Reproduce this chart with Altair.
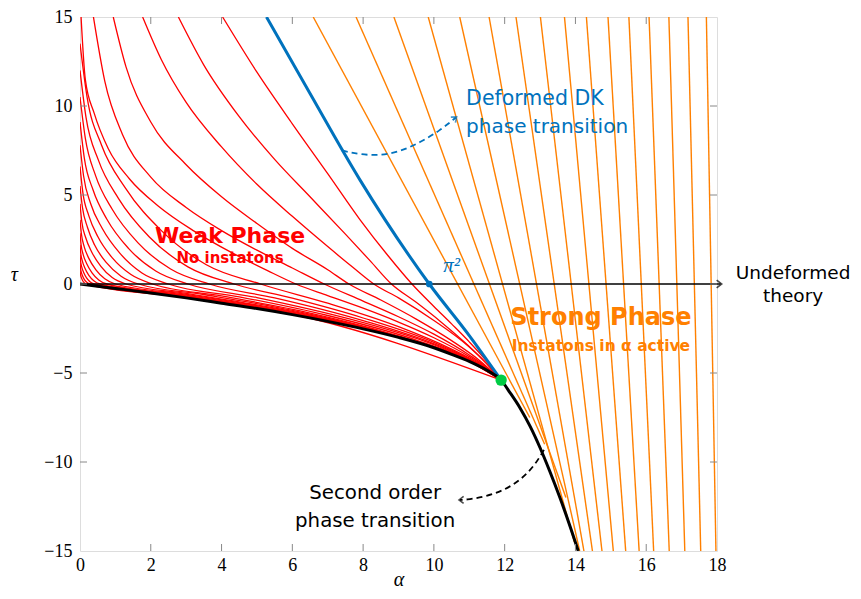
import altair as alt
import pandas as pd

# ---------------- data ----------------
X_TICKS = [0, 2, 4, 6, 8, 10, 12, 14, 16, 18]
Y_TICKS = [-15, -10, -5, 0, 5, 10, 15]

black_alpha = [0, 1, 2, 3, 4, 5, 6, 7, 8, 9, 10, 10.5, 11, 11.5, 11.9, 12.15, 12.43, 12.72, 13.0, 13.28, 13.56, 13.82, 14.08]
black_tau = [0, -0.25, -0.5, -0.78, -1.08, -1.38, -1.72, -2.1, -2.52, -3.0, -3.58, -3.95, -4.35, -4.85, -5.4, -6.1, -6.95, -8.0, -9.2, -10.55, -12.0, -13.45, -15]

blue_alpha = [5.27, 6.5, 7.91, 9.87, 11.0, 11.9]
blue_tau = [15, 10.7, 5.85, 0, -2.9, -5.4]

# red curves: one (alpha list, tau list) pair per curve
red_curves = [
    ([4.03, 5, 6, 7, 7.91, 8.7, 9.38, 10, 10.5, 11, 11.5, 11.9],
     [15, 11.9, 9.0, 6.2, 3.62, 1.6, 0, -1.26, -2.24, -3.25, -4.36, -5.4]),
    ([2.78, 3.5, 4.5, 5.5, 6.5, 7.5, 8.2, 8.8, 9.5, 10.2, 11, 11.5, 11.9],
     [15, 12.3, 9.4, 7.0, 4.9, 2.8, 1.3, 0, -1.03, -2.13, -3.51, -4.48, -5.4]),
    ([1.77, 2.3, 3, 4, 5, 6, 7, 7.7, 8.3, 9, 10, 11, 11.5, 11.9],
     [15, 12.6, 10.2, 7.7, 5.6, 3.8, 2.1, 0.95, 0, -0.78, -2.05, -3.54, -4.5, -5.4]),
    ([0.94, 1.3, 2, 3, 4, 5, 6, 7, 7.6, 8.5, 9.5, 10.5, 11.3, 11.9],
     [15, 12.2, 9.1, 6.7, 4.9, 3.4, 2.0, 0.8, 0, -0.9, -1.97, -3.18, -4.31, -5.4]),
    ([0.38, 0.7, 1.2, 2, 3, 4, 5, 6, 6.9, 8, 9, 10, 11, 11.5, 11.9],
     [15, 11.4, 8.4, 6.0, 4.3, 3.0, 1.9, 0.9, 0, -0.96, -1.84, -2.82, -3.99, -4.69, -5.4]),
    ([0.03, 0.15, 0.4, 0.8, 1.4, 2.2, 3.2, 4.3, 5.3, 6.1, 7, 8, 9, 10, 11, 11.5, 11.9],
     [15, 11.5, 9.6, 7.6, 5.9, 4.4, 3.0, 1.75, 0.75, 0, -0.65, -1.36, -2.14, -3.02, -4.08, -4.73, -5.4]),
    ([0, 0.2, 0.61, 1.28, 2.3, 3.57, 5.1, 7, 9, 10.5, 11, 11.5, 11.9],
     [13.5, 10.5, 7.8, 5.4, 3.0, 1.08, 0, -1.08, -2.40, -3.66, -4.16, -4.77, -5.4]),
    ([0, 0.17, 0.52, 1.09, 1.96, 3.05, 4.35, 6, 8, 10, 11, 11.5, 11.9],
     [12.0, 9.36, 6.96, 4.8, 2.64, 0.96, 0, -0.80, -1.91, -3.28, -4.21, -4.79, -5.4]),
    ([0, 0.15, 0.44, 0.91, 1.64, 2.56, 3.65, 5.5, 8, 10, 11, 11.5, 11.9],
     [10.5, 8.19, 6.09, 4.2, 2.31, 0.84, 0, -0.78, -2.06, -3.36, -4.24, -4.80, -5.4]),
    ([0, 0.12, 0.37, 0.76, 1.37, 2.14, 3.05, 5, 7.5, 10, 11, 11.5, 11.9],
     [9.1, 7.1, 5.28, 3.64, 2.0, 0.73, 0, -0.76, -1.9, -3.41, -4.27, -4.81, -5.4]),
    ([0, 0.1, 0.3, 0.63, 1.13, 1.75, 2.5, 4.5, 7, 9.5, 11, 11.5, 11.9],
     [7.8, 6.08, 4.52, 3.12, 1.72, 0.62, 0, -0.72, -1.77, -3.15, -4.29, -4.82, -5.4]),
    ([0, 0.08, 0.25, 0.51, 0.92, 1.44, 2.05, 4, 6.5, 9, 11, 11.5, 11.9],
     [6.6, 5.15, 3.83, 2.64, 1.45, 0.53, 0, -0.67, -1.63, -2.92, -4.30, -4.83, -5.4]),
    ([0, 0.07, 0.21, 0.41, 0.74, 1.16, 1.65, 3.5, 6, 9, 11, 11.5, 11.9],
     [5.5, 4.29, 3.19, 2.2, 1.21, 0.44, 0, -0.59, -1.48, -2.95, -4.31, -4.83, -5.4]),
    ([0, 0.05, 0.16, 0.33, 0.59, 0.91, 1.3, 3, 6, 9, 11, 11.5, 11.9],
     [4.5, 3.51, 2.61, 1.8, 0.99, 0.36, 0, -0.53, -1.54, -2.96, -4.32, -4.84, -5.4]),
    ([0, 0.04, 0.12, 0.25, 0.45, 0.7, 1.0, 3, 6, 9, 11, 11.5, 11.9],
     [3.6, 2.81, 2.09, 1.44, 0.79, 0.29, 0, -0.58, -1.58, -2.97, -4.33, -4.84, -5.4]),
    ([0, 0.03, 0.09, 0.19, 0.34, 0.53, 0.76, 3, 6, 9, 11, 11.5, 11.9],
     [2.85, 2.22, 1.65, 1.14, 0.63, 0.23, 0, -0.63, -1.62, -2.98, -4.33, -4.845, -5.4]),
    ([0, 0.022, 0.067, 0.14, 0.25, 0.39, 0.56, 3, 6, 9, 11, 11.9],
     [2.2, 1.72, 1.28, 0.88, 0.48, 0.18, 0, -0.67, -1.65, -2.985, -4.34, -5.4]),
    ([0, 0.016, 0.048, 0.1, 0.18, 0.28, 0.4, 3, 6, 9, 11, 11.9],
     [1.65, 1.29, 0.96, 0.66, 0.36, 0.13, 0, -0.71, -1.67, -2.99, -4.34, -5.4]),
    ([0, 0.011, 0.032, 0.068, 0.12, 0.19, 0.27, 3, 6, 9, 11, 11.9],
     [1.2, 0.94, 0.70, 0.48, 0.26, 0.1, 0, -0.735, -1.69, -2.995, -4.345, -5.4]),
    ([0, 0.007, 0.02, 0.043, 0.077, 0.12, 0.17, 3, 6, 11.9],
     [0.82, 0.64, 0.48, 0.33, 0.18, 0.066, 0, -0.755, -1.70, -5.4]),
]

# orange straight lines: top end at tau = 15, lower end on the bottom edge or on the black curve
orange_top_alpha = [6.59, 7.80, 8.87, 9.84, 10.73, 11.56, 12.32, 13.01, 13.69, 14.31, 14.92, 15.51, 16.08, 16.64, 17.18, 17.70]
orange_bot_alpha = [12.71, 13.13, 13.73, 13.97, 14.12, 14.24, 14.48, 14.75, 15.07, 15.42, 15.80, 16.21, 16.65, 17.09, 17.54, 17.97]
orange_bot_tau = [-7.5, -9.0, -12.0, -14.5, -15, -15, -15, -15, -15, -15, -15, -15, -15, -15, -15, -15]

green_pt = (11.9, -5.4)
blue_pt = (9.87, 0)

dk_arrow_alpha = [7.40, 7.91, 8.48, 9.04, 9.61, 10.17, 10.62]
dk_arrow_tau = [7.50, 7.27, 7.22, 7.44, 7.95, 8.62, 9.35]
so_arrow_alpha = [13.11, 12.86, 12.49, 12.01, 11.44, 10.88, 10.74]
so_arrow_tau = [-9.32, -10.16, -10.95, -11.57, -11.96, -12.13, -12.13]

# ---------------- build tables ----------------
W, H = 637, 534
RED = "#ff0000"
ORANGE = "#ff8000"
BLUE = "#0072bd"
GREEN = "#00cc44"

rows = []
for cid, (al, ta) in enumerate(red_curves):
    for i, (a, t) in enumerate(zip(al, ta)):
        rows.append({"c": cid, "o": i, "a": a, "t": t})
red_df = pd.DataFrame(rows)

orows = []
for k, (a0, a1, t1) in enumerate(zip(orange_top_alpha, orange_bot_alpha, orange_bot_tau)):
    orows.append({"c": k, "o": 0, "a": a0, "t": 15})
    orows.append({"c": k, "o": 1, "a": a1, "t": t1})
orange_df = pd.DataFrame(orows)

black_df = pd.DataFrame({"a": black_alpha, "t": black_tau, "o": range(len(black_alpha))})
blue_df = pd.DataFrame({"a": blue_alpha, "t": blue_tau, "o": range(len(blue_alpha))})

xs = alt.Scale(domain=[0, 18], nice=False, zero=False)
ys = alt.Scale(domain=[-15, 15], nice=False, zero=False)

X = lambda f="a": alt.X(f"{f}:Q", scale=xs)
Y = lambda f="t": alt.Y(f"{f}:Q", scale=ys)

base_axes = alt.Chart(pd.DataFrame({"a": [0], "t": [0]})).mark_point(opacity=0).encode(
    x=alt.X("a:Q", scale=xs, title="α",
            axis=alt.Axis(values=X_TICKS, ticks=False, domain=False, grid=False, labelFont="Liberation Serif",
                          labelFontSize=18, labelColor="black", labelPadding=5, labelFlush=False,
                          titleFont="Liberation Serif",
                          titleFontSize=20, titleFontStyle="italic", titleFontWeight="normal",
                          titleBaseline="alphabetic", titleY=34)),
    y=alt.Y("t:Q", scale=ys, title="τ",
            axis=alt.Axis(values=Y_TICKS, ticks=False, domain=False, grid=False, labelFont="Liberation Serif",
                          labelFontSize=18, labelColor="black", labelPadding=8, labelFlush=False,
                          titleFont="Liberation Serif",
                          titleFontSize=20, titleFontStyle="italic", titleFontWeight="normal", titleAngle=0,
                          titlePadding=30)),
)

red = alt.Chart(red_df).mark_line(color=RED, strokeWidth=1.3, clip=True, interpolate="monotone").encode(
    x=X(), y=Y(), detail="c:N", order="o:Q")
orange = alt.Chart(orange_df).mark_line(color=ORANGE, strokeWidth=1.4, clip=True).encode(
    x=X(), y=Y(), detail="c:N", order="o:Q")
black = alt.Chart(black_df).mark_line(color="black", strokeWidth=3, clip=True, interpolate="monotone").encode(
    x=X(), y=Y(), order="o:Q")
blue = alt.Chart(blue_df).mark_line(color=BLUE, strokeWidth=3, clip=True, interpolate="monotone").encode(
    x=X(), y=Y(), order="o:Q")

axis_line = alt.Chart(pd.DataFrame({"a": [0], "a2": [18.1], "t": [0]})).mark_rule(
    color="black", strokeWidth=1.6).encode(x=X(), x2="a2:Q", y=Y())
arrow_head = alt.Chart(pd.DataFrame({"a": [18.1], "t": [0]})).mark_point(
    shape="M-1,-1L0.3,0L-1,1", size=60, filled=False, stroke="black", strokeWidth=1.6).encode(x=X(), y=Y())

dots = alt.Chart(pd.DataFrame({"a": [green_pt[0], blue_pt[0]], "t": [green_pt[1], blue_pt[1]],
                               "col": [GREEN, BLUE], "s": [130, 45]})).mark_point(filled=True, opacity=1).encode(
    x=X(), y=Y(), color=alt.Color("col:N", scale=None), size=alt.Size("s:Q", scale=None))

dk_df = pd.DataFrame({"a": dk_arrow_alpha, "t": dk_arrow_tau, "o": range(len(dk_arrow_alpha))})
so_df = pd.DataFrame({"a": so_arrow_alpha, "t": so_arrow_tau, "o": range(len(so_arrow_alpha))})
dk_line = alt.Chart(dk_df).mark_line(color=BLUE, strokeWidth=1.8, strokeDash=[6, 4], interpolate="basis").encode(
    x=X(), y=Y(), order="o:Q")
so_line = alt.Chart(so_df).mark_line(color="black", strokeWidth=1.8, strokeDash=[6, 4], interpolate="basis").encode(
    x=X(), y=Y(), order="o:Q")
dk_head = alt.Chart(pd.DataFrame({"a": [dk_arrow_alpha[-1]], "t": [dk_arrow_tau[-1]]})).mark_point(
    shape="M-1,-1L0.3,0L-1,1", size=50, filled=False, stroke=BLUE, strokeWidth=1.6, angle=320).encode(x=X(), y=Y())
so_head = alt.Chart(pd.DataFrame({"a": [so_arrow_alpha[-1]], "t": [so_arrow_tau[-1]]})).mark_point(
    shape="M-1,-1L0.3,0L-1,1", size=50, filled=False, stroke="black", strokeWidth=1.6, angle=180).encode(x=X(), y=Y())

# inside ticks
xt = pd.DataFrame({"a": X_TICKS[1:-1]})
yt = pd.DataFrame({"t": Y_TICKS[1:-1]})
TC = "#888888"
tb = alt.Chart(xt).mark_rule(color=TC, strokeWidth=1).encode(x=X(), y=alt.value(H), y2=alt.value(H - 7))
tt = alt.Chart(xt).mark_rule(color=TC, strokeWidth=1).encode(x=X(), y=alt.value(0), y2=alt.value(7))
tl = alt.Chart(yt).mark_rule(color=TC, strokeWidth=1).encode(y=Y(), x=alt.value(0), x2=alt.value(7))
tr = alt.Chart(yt).mark_rule(color=TC, strokeWidth=1).encode(y=Y(), x=alt.value(W), x2=alt.value(W - 7))


def label(a, t, text, color, size, weight="normal", align="center", font="DejaVu Sans", style="normal"):
    return alt.Chart(pd.DataFrame({"a": [a], "t": [t], "s": [text]})).mark_text(
        color=color, fontSize=size, fontWeight=weight, align=align, baseline="middle", font=font,
        fontStyle=style).encode(x=X(), y=Y(), text="s:N")


texts = [
    label(4.24, 2.72, "Weak Phase", RED, 22, "bold"),
    label(4.24, 1.45, "No instatons", RED, 15, "bold"),
    label(14.72, -1.9, "Strong Phase", ORANGE, 24, "bold"),
    label(14.72, -3.5, "Instatons in α active", ORANGE, 15.5, "bold"),
    label(10.91, 10.37, "Deformed DK", BLUE, 20.5, align="left"),
    label(10.91, 8.8, "phase transition", BLUE, 20, align="left"),
    label(8.34, -11.74, "Second order", "black", 19.8),
    label(8.34, -13.31, "phase transition", "black", 19.8),
    label(20.15, 0.64, "Undeformed", "black", 18.5),
    label(20.15, -0.66, "theory", "black", 18.5),
    label(10.5, 1.0, "π²", BLUE, 21, font="Liberation Serif", style="italic"),
]

chart = alt.layer(
    base_axes, red, orange, blue, black, axis_line, arrow_head, dk_line, so_line, dk_head, so_head,
    tb, tt, tl, tr, dots, *texts
).properties(
    width=W, height=H, autosize=alt.AutoSizeParams(type="none"),
    padding={"left": 72, "top": 9, "right": 136, "bottom": 40},
).configure_view(stroke="black", strokeWidth=1.2).configure(background="white")

chart.save("out.html", embed_options={"renderer": "svg", "actions": False})
